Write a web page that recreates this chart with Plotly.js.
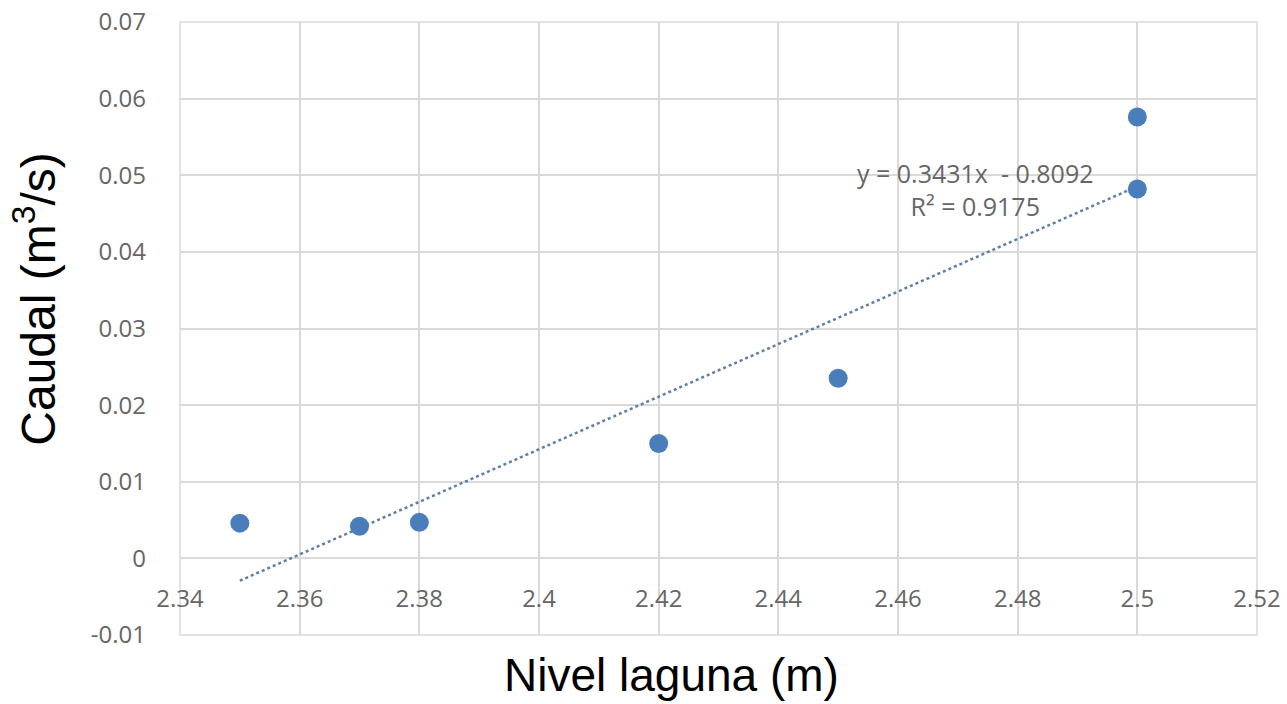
<!DOCTYPE html>
<html>
<head>
<meta charset="utf-8">
<script src="https://cdn.plot.ly/plotly-3.0.1.min.js"></script>
<style>html,body{margin:0;padding:0;background:#fff;}#chart{width:1287px;height:704px;}</style>
</head>
<body>
<div id="chart"></div>
<script>
// Data
const nivel = [2.35, 2.37, 2.38, 2.42, 2.45, 2.50, 2.50];
const caudal = [0.0046, 0.0042, 0.0047, 0.0150, 0.0235, 0.0576, 0.0482];
// Trendline shown in the chart (y = slope*x + intercept)
const trendSlope = 0.3431;
const trendIntercept = -0.8092;
const trendX = [2.35, 2.50];
const xTicks = [2.34, 2.36, 2.38, 2.4, 2.42, 2.44, 2.46, 2.48, 2.5, 2.52];
const xTickText = ['2.34','2.36','2.38','2.4','2.42','2.44','2.46','2.48','2.5','2.52'];
const yTicks = [-0.01, 0, 0.01, 0.02, 0.03, 0.04, 0.05, 0.06, 0.07];
const yTickText = ['-0.01','0','0.01','0.02','0.03','0.04','0.05','0.06','0.07'];
const eqText = 'y = 0.3431x  - 0.8092<br>R² = 0.9175';

const trendY = trendX.map(x => trendSlope * x + trendIntercept);

const tickFont = {family: 'Open Sans, sans-serif', size: 24, color: '#666666'};

const data = [
  {
    x: trendX, y: trendY, type: 'scatter', mode: 'lines',
    line: {color: '#5b7fa8', width: 2.5, dash: 'dot'},
    hoverinfo: 'skip', showlegend: false
  },
  {
    x: nivel, y: caudal, type: 'scatter', mode: 'markers',
    marker: {color: '#4a7ebb', size: 19, line: {width: 0}},
    showlegend: false
  }
];

const layout = {
  width: 1287, height: 704,
  margin: {l: 180, r: 30, t: 22, b: 69},
  paper_bgcolor: '#ffffff', plot_bgcolor: '#ffffff',
  showlegend: false,
  xaxis: {
    range: [2.34, 2.52], tickvals: xTicks, ticktext: xTickText,
    showgrid: true, gridcolor: '#d9d9d9', gridwidth: 1.5,
    zeroline: false, showline: false,
    anchor: 'free', position: 0.125,
    ticks: '', ticklabelstandoff: 24,
    tickfont: tickFont
  },
  yaxis: {
    range: [-0.01, 0.07], tickvals: yTicks, ticktext: yTickText,
    showgrid: true, gridcolor: '#d9d9d9', gridwidth: 1.5,
    zeroline: true, zerolinecolor: '#d9d9d9', zerolinewidth: 1.5,
    showline: false, ticks: '', ticklabelstandoff: 33,
    tickfont: tickFont
  },
  shapes: [
    {type: 'rect', xref: 'paper', yref: 'paper', x0: 0, x1: 1, y0: 0, y1: 1,
     line: {color: '#d9d9d9', width: 1.5}, fillcolor: 'rgba(0,0,0,0)', layer: 'below'}
  ],
  annotations: [
    {text: eqText, xref: 'x', yref: 'y', x: 2.473, y: 0.0481, showarrow: false,
     font: {family: 'Open Sans, sans-serif', size: 25, color: '#666666'}, align: 'center'},
    {text: 'Nivel laguna (m)', xref: 'paper', yref: 'paper', x: 0.456, y: -0.065,
     xanchor: 'center', yanchor: 'middle', showarrow: false,
     font: {family: 'Liberation Sans, Arial, sans-serif', size: 46, color: '#000000'}},
    {text: 'Caudal (m<sup>3</sup>/s)', xref: 'paper', yref: 'paper', x: -0.135, y: 0.548,
     xanchor: 'center', yanchor: 'middle', textangle: -90, showarrow: false,
     font: {family: 'Liberation Sans, Arial, sans-serif', size: 48, color: '#000000'}}
  ]
};

Plotly.newPlot('chart', data, layout, {displayModeBar: false, responsive: false});
</script>
</body>
</html>
